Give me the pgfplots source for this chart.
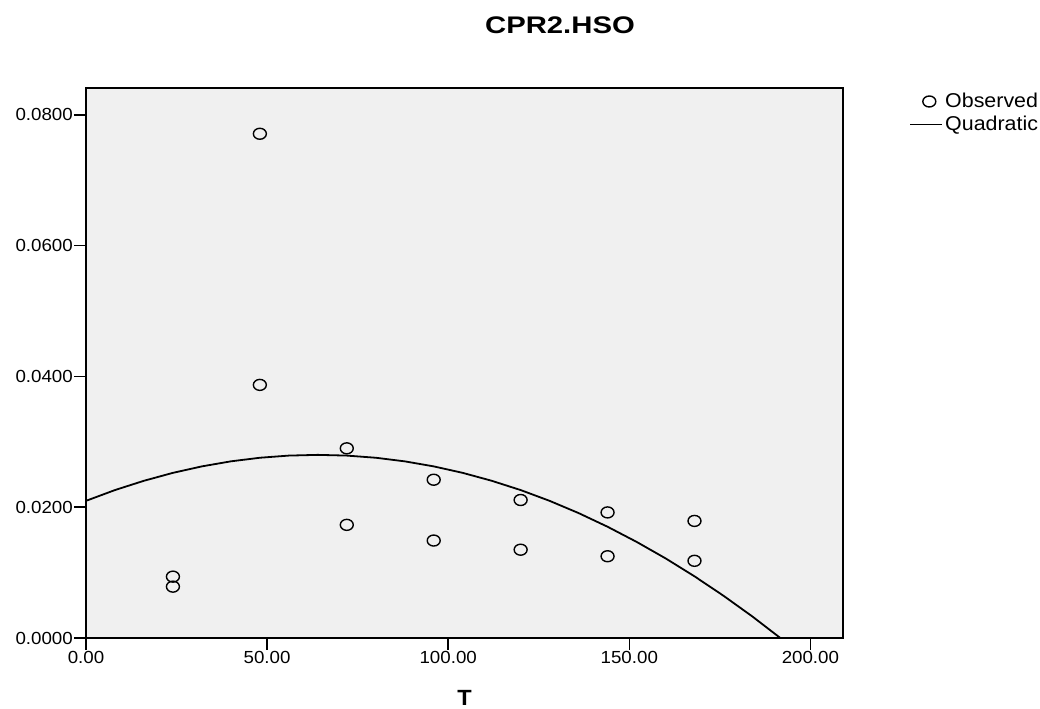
\documentclass[border=0pt]{standalone}
\usepackage{pgfplots}
\pgfplotsset{compat=1.18}
\usepackage{fontspec}
\setmainfont{Liberation Sans}[FakeStretch=1.07]

\definecolor{panel}{HTML}{F0F0F0}

% legend symbols: single circle and a line
\pgfplotsset{
  obslegend/.style={legend image code/.code={\draw[##1] plot coordinates {(19pt,0pt)};}},
  fitlegend/.style={legend image code/.code={\draw[##1] (0pt,0pt) -- (32pt,0pt);}},
}

% Observed values of CPR2.HSO against T
\pgfplotstableread{
T      y
24     0.00938
24     0.00785
48     0.0771
48     0.0387
72     0.0290
72     0.0173
96     0.0242
96     0.0149
120    0.0211
120    0.0135
144    0.0192
144    0.0125
168    0.0179
168    0.0118
}\observed

% Quadratic fit, tabulated
\pgfplotstableread{
T      y
0      0.02097
8      0.02262
16     0.02404
24     0.02525
32     0.02624
40     0.02701
48     0.02756
56     0.02789
64     0.02800
72     0.02789
80     0.02756
88     0.02701
96     0.02624
104    0.02525
112    0.02404
120    0.02262
128    0.02097
136    0.01910
144    0.01701
152    0.01470
160    0.01218
168    0.00943
176    0.00646
184    0.00328
192    -0.00013
}\quadfit

\begin{document}
\begin{tikzpicture}
\path (0pt,0pt) rectangle (1040pt,706pt);
\node[font=\fontsize{24}{28}\selectfont\bfseries] at (560pt,681pt) {\scalebox{1.14}[1]{CPR2.HSO}};
\begin{axis}[
  at={(86pt,68pt)}, anchor=south west,
  scale only axis, width=757pt, height=550pt,
  xmin=0, xmax=209, ymin=0, ymax=0.0841,
  axis background/.style={fill=panel},
  axis line style={line width=1.5pt, black},
  xtick={0,50,100,150,200},
  ytick={0,0.02,0.04,0.06,0.08},
  xtick pos=left, ytick pos=left,
  tick align=outside, major tick length=12pt,
  tick style={line width=1.5pt, black},
  scaled y ticks=false, scaled x ticks=false,
  xticklabel style={/pgf/number format/.cd, fixed, fixed zerofill, precision=2},
  yticklabel style={/pgf/number format/.cd, fixed, fixed zerofill, precision=4},
  /pgf/number format/assume math mode=true,
  ticklabel style={font=\fontsize{17.5}{20}\selectfont, inner sep=1pt},
  xlabel={T}, xlabel style={font=\fontsize{22}{26}\selectfont\bfseries, yshift=-22pt},
  clip=true,
  legend style={draw=none, fill=none, at={(1.0875,0.994)}, anchor=north west,
    font=\fontsize{20}{23}\selectfont, row sep=3pt, inner sep=0pt,
    cells={anchor=west}},
]
\addplot[only marks, mark=o, mark size=5.5pt, line width=1.4pt,
  every mark/.append style={xscale=1.18}, obslegend]
  table[x=T, y=y] {\observed};
\addlegendentry{Observed}
\addplot[no marks, line width=1.8pt, black, fitlegend]
  table[x=T, y=y] {\quadfit};
\addlegendentry{Quadratic}
\end{axis}
\end{tikzpicture}
\end{document}
